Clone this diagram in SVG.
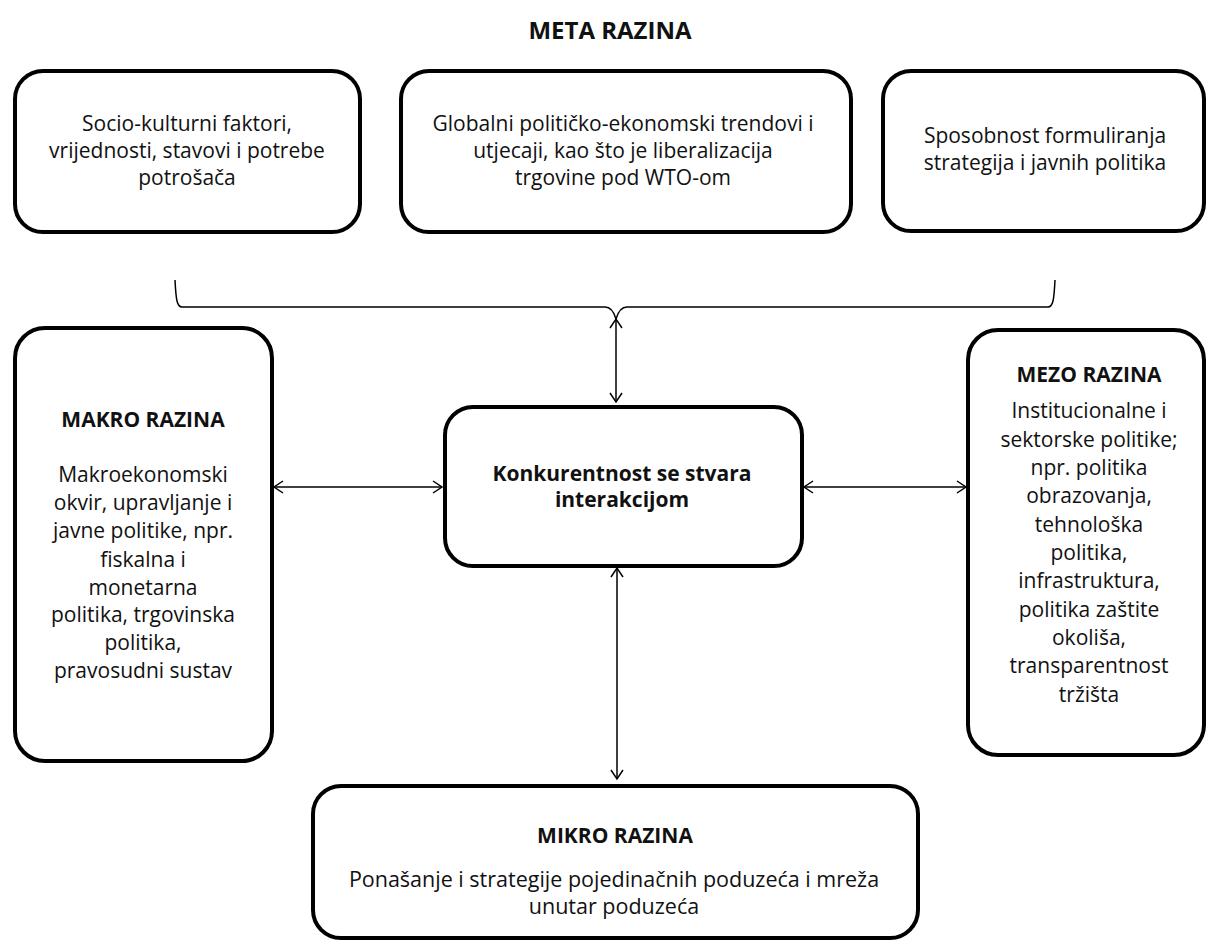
<svg xmlns="http://www.w3.org/2000/svg" width="1207" height="940" viewBox="0 0 1207 940">
<style>
.box{fill:#fff;stroke:#000;stroke-width:4}
.t{font-family:"Open Sans","Liberation Sans",sans-serif;font-size:21px;fill:#111;text-anchor:middle}
.b{font-weight:bold}
.title{font-size:24px}
.wide{font-size:21.5px}
.con{stroke:#000;stroke-width:1.5;fill:none}
</style>
<defs>
<marker id="ah" markerUnits="userSpaceOnUse" markerWidth="16" markerHeight="16" refX="11" refY="8" orient="auto-start-reverse">
<path d="M2,2 L11,8 L2,14" fill="none" stroke="#000" stroke-width="1.5"/>
</marker>
</defs>
<rect width="1207" height="940" fill="#fff"/>
<text class="t b title" x="610" y="39">META RAZINA</text>
<g id="meta1">
<rect class="box" x="15" y="71" width="345" height="161" rx="28"/>
<text class="t" x="187" y="131">Socio-kulturni faktori,</text>
<text class="t" x="187" y="158">vrijednosti, stavovi i potrebe</text>
<text class="t" x="187" y="185">potrošača</text>
</g>
<g id="meta2">
<rect class="box" x="401" y="71" width="450" height="161" rx="28"/>
<text class="t" x="623" y="131">Globalni političko-ekonomski trendovi i</text>
<text class="t" x="623" y="158">utjecaji, kao što je liberalizacija</text>
<text class="t" x="623" y="185">trgovine pod WTO-om</text>
</g>
<g id="meta3">
<rect class="box" x="883" y="71" width="321" height="160" rx="28"/>
<text class="t" x="1045" y="143">Sposobnost formuliranja</text>
<text class="t" x="1045" y="170">strategija i javnih politika</text>
</g>
<g id="makro">
<rect class="box" x="15" y="328" width="257" height="433" rx="30"/>
<text class="t b" x="143" y="427">MAKRO RAZINA</text>
<text class="t" x="143" y="482">Makroekonomski</text>
<text class="t" x="143" y="510">okvir, upravljanje i</text>
<text class="t" x="143" y="538">javne politike, npr.</text>
<text class="t" x="143" y="567">fiskalna i</text>
<text class="t" x="143" y="595">monetarna</text>
<text class="t" x="143" y="622">politika, trgovinska</text>
<text class="t" x="143" y="650">politika,</text>
<text class="t" x="143" y="678">pravosudni sustav</text>
</g>
<g id="center">
<rect class="box" x="445" y="407" width="357" height="159" rx="28"/>
<text class="t b" x="622" y="481">Konkurentnost se stvara</text>
<text class="t b" x="622" y="507">interakcijom</text>
</g>
<g id="mezo">
<rect class="box" x="968" y="330" width="236" height="425" rx="30"/>
<text class="t b" x="1089" y="382">MEZO RAZINA</text>
<text class="t" x="1089" y="418">Institucionalne i</text>
<text class="t" x="1089" y="447">sektorske politike;</text>
<text class="t" x="1089" y="475">npr. politika</text>
<text class="t" x="1089" y="503">obrazovanja,</text>
<text class="t" x="1089" y="532">tehnološka</text>
<text class="t" x="1089" y="560">politika,</text>
<text class="t" x="1089" y="588">infrastruktura,</text>
<text class="t" x="1089" y="617">politika zaštite</text>
<text class="t" x="1089" y="645">okoliša,</text>
<text class="t" x="1089" y="673">transparentnost</text>
<text class="t" x="1089" y="702">tržišta</text>
</g>
<g id="mikro">
<rect class="box" x="313" y="786" width="605" height="152" rx="28"/>
<text class="t b" x="615" y="843">MIKRO RAZINA</text>
<text class="t wide" x="614" y="887">Ponašanje i strategije pojedinačnih poduzeća i mreža</text>
<text class="t wide" x="614" y="914">unutar poduzeća</text>
</g>
<g id="connectors">
<path class="con" d="M175,280 C176,300 177,307 182,307 L605,307 C611,307 614,312 616,319 C618,312 621,307 627,307 L1048,307 C1053,307 1054,300 1055,280"/>
<line class="con" x1="616" y1="319" x2="616" y2="402" marker-start="url(#ah)" marker-end="url(#ah)"/>
<line class="con" x1="274" y1="487" x2="442" y2="487" marker-start="url(#ah)" marker-end="url(#ah)"/>
<line class="con" x1="804" y1="487" x2="966" y2="487" marker-start="url(#ah)" marker-end="url(#ah)"/>
<line class="con" x1="617" y1="568" x2="617" y2="779" marker-start="url(#ah)" marker-end="url(#ah)"/>
</g>
</svg>
